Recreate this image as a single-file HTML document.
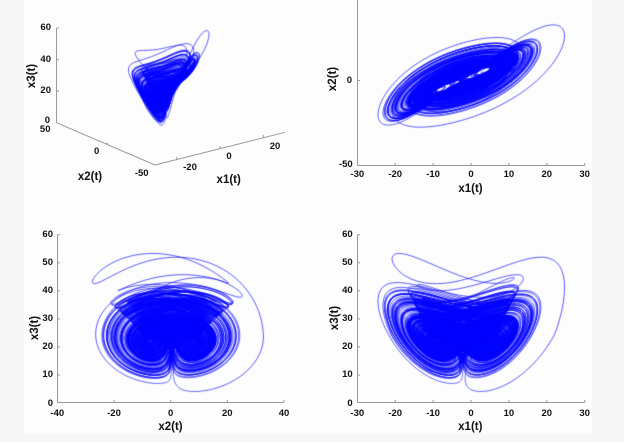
<!DOCTYPE html>
<html>
<head>
<meta charset="utf-8">
<style>
html,body{margin:0;padding:0;}
body{width:624px;height:442px;position:relative;overflow:hidden;background:#f7f7f7;font-family:"Liberation Sans",Arial,sans-serif;font-weight:bold;color:#111;}
#bg{position:absolute;left:24px;top:0;width:568px;height:434px;background:#fdfdfd;}
.t{position:absolute;font-size:9.5px;line-height:10px;white-space:nowrap;}
.r{transform:translate(-100%,-50%);}
.c{transform:translate(-50%,-50%);}
.lb{position:absolute;font-size:11.5px;line-height:12px;white-space:nowrap;transform:translate(-50%,-50%);}
.rot{transform:translate(-50%,-50%) rotate(-90deg);}
svg,canvas{position:absolute;left:0;top:0;}
</style>
</head>
<body>
<div id="bg"></div>
<svg width="624" height="442" viewBox="0 0 624 442">
<g stroke="#9a9a9a" stroke-width="1" fill="none">
<line x1="56.5" y1="28" x2="56.5" y2="122.7"/>
<line x1="56.5" y1="122.7" x2="155" y2="165"/>
<line x1="155" y1="165" x2="285" y2="132.3"/>
<line x1="56.5" y1="28" x2="59" y2="28"/>
<line x1="56.5" y1="59.6" x2="59" y2="59.6"/>
<line x1="56.5" y1="91.1" x2="59" y2="91.1"/>
<line x1="105.5" y1="143.8" x2="108" y2="143.2"/>
<line x1="176.7" y1="159.6" x2="176.7" y2="157"/>
<line x1="220" y1="148.7" x2="220" y2="146"/>
<line x1="263.3" y1="137.8" x2="263.3" y2="135"/>
<line x1="357.5" y1="0" x2="357.5" y2="165.5"/>
<line x1="357.5" y1="165.5" x2="584.7" y2="165.5"/>
<line x1="357.5" y1="80.5" x2="360" y2="80.5"/>
<line x1="395.2" y1="165.5" x2="395.2" y2="163"/>
<line x1="433.1" y1="165.5" x2="433.1" y2="163"/>
<line x1="471" y1="165.5" x2="471" y2="163"/>
<line x1="508.9" y1="165.5" x2="508.9" y2="163"/>
<line x1="546.8" y1="165.5" x2="546.8" y2="163"/>
<line x1="584.7" y1="165.5" x2="584.7" y2="163"/>
<line x1="57.5" y1="234.7" x2="57.5" y2="402.5"/>
<line x1="57.5" y1="402.5" x2="284" y2="402.5"/>
<line x1="57.5" y1="375" x2="60" y2="375"/>
<line x1="57.5" y1="346.9" x2="60" y2="346.9"/>
<line x1="57.5" y1="318.9" x2="60" y2="318.9"/>
<line x1="57.5" y1="290.8" x2="60" y2="290.8"/>
<line x1="57.5" y1="262.8" x2="60" y2="262.8"/>
<line x1="57.5" y1="234.7" x2="60" y2="234.7"/>
<line x1="114" y1="402.5" x2="114" y2="400"/>
<line x1="170.7" y1="402.5" x2="170.7" y2="400"/>
<line x1="227.3" y1="402.5" x2="227.3" y2="400"/>
<line x1="284" y1="402.5" x2="284" y2="400"/>
<line x1="357.5" y1="234.7" x2="357.5" y2="402.5"/>
<line x1="357.5" y1="402.5" x2="584.7" y2="402.5"/>
<line x1="357.5" y1="375" x2="360" y2="375"/>
<line x1="357.5" y1="346.9" x2="360" y2="346.9"/>
<line x1="357.5" y1="318.9" x2="360" y2="318.9"/>
<line x1="357.5" y1="290.8" x2="360" y2="290.8"/>
<line x1="357.5" y1="262.8" x2="360" y2="262.8"/>
<line x1="357.5" y1="234.7" x2="360" y2="234.7"/>
<line x1="395.2" y1="402.5" x2="395.2" y2="400"/>
<line x1="433.1" y1="402.5" x2="433.1" y2="400"/>
<line x1="471" y1="402.5" x2="471" y2="400"/>
<line x1="508.9" y1="402.5" x2="508.9" y2="400"/>
<line x1="546.8" y1="402.5" x2="546.8" y2="400"/>
<line x1="584.7" y1="402.5" x2="584.7" y2="400"/>
</g>
</svg>
<canvas id="cv" width="624" height="442"></canvas>

<div class="t r" style="left:51px;top:28px">60</div>
<div class="t r" style="left:51px;top:60px">40</div>
<div class="t r" style="left:51px;top:90.5px">20</div>
<div class="t r" style="left:50px;top:121px">0</div>
<div class="t r" style="left:50.5px;top:130px">50</div>
<div class="t c" style="left:96.7px;top:152px">0</div>
<div class="t c" style="left:141.7px;top:173.7px">-50</div>
<div class="t c" style="left:190px;top:168.3px">-20</div>
<div class="t c" style="left:229px;top:157px">0</div>
<div class="t c" style="left:275px;top:146.7px">20</div>
<div class="lb" style="left:90px;top:177px">x2(t)</div>
<div class="lb" style="left:228.7px;top:179.7px">x1(t)</div>
<div class="lb rot" style="left:31.7px;top:76px">x3(t)</div>

<div class="t r" style="left:352.5px;top:-4.4px">50</div>
<div class="t r" style="left:352px;top:80.8px">0</div>
<div class="t r" style="left:352.7px;top:165px">-50</div>
<div class="t c" style="left:357.3px;top:174.5px">-30</div>
<div class="t c" style="left:395.2px;top:174.5px">-20</div>
<div class="t c" style="left:433.1px;top:174.5px">-10</div>
<div class="t c" style="left:471px;top:174.5px">0</div>
<div class="t c" style="left:508.9px;top:174.5px">10</div>
<div class="t c" style="left:546.8px;top:174.5px">20</div>
<div class="t c" style="left:584.7px;top:174.5px">30</div>
<div class="lb" style="left:470.5px;top:189.3px">x1(t)</div>
<div class="lb rot" style="left:333px;top:79px">x2(t)</div>

<div class="t r" style="left:53px;top:403.5px">0</div>
<div class="t r" style="left:53px;top:375.3px">10</div>
<div class="t r" style="left:53px;top:347.2px">20</div>
<div class="t r" style="left:53px;top:319.2px">30</div>
<div class="t r" style="left:53px;top:291.1px">40</div>
<div class="t r" style="left:53px;top:263.1px">50</div>
<div class="t r" style="left:53px;top:235px">60</div>
<div class="t c" style="left:57.3px;top:413.5px">-40</div>
<div class="t c" style="left:114px;top:413.5px">-20</div>
<div class="t c" style="left:170.7px;top:413.5px">0</div>
<div class="t c" style="left:227.3px;top:413.5px">20</div>
<div class="t c" style="left:284px;top:413.5px">40</div>
<div class="lb" style="left:170.5px;top:426.7px">x2(t)</div>
<div class="lb rot" style="left:35px;top:328px">x3(t)</div>

<div class="t r" style="left:352.7px;top:403.5px">0</div>
<div class="t r" style="left:352.7px;top:375.3px">10</div>
<div class="t r" style="left:352.7px;top:347.2px">20</div>
<div class="t r" style="left:352.7px;top:319.2px">30</div>
<div class="t r" style="left:352.7px;top:291.1px">40</div>
<div class="t r" style="left:352.7px;top:263.1px">50</div>
<div class="t r" style="left:352.7px;top:235px">60</div>
<div class="t c" style="left:357.3px;top:413.5px">-30</div>
<div class="t c" style="left:395.2px;top:413.5px">-20</div>
<div class="t c" style="left:433.1px;top:413.5px">-10</div>
<div class="t c" style="left:471px;top:413.5px">0</div>
<div class="t c" style="left:508.9px;top:413.5px">10</div>
<div class="t c" style="left:546.8px;top:413.5px">20</div>
<div class="t c" style="left:584.7px;top:413.5px">30</div>
<div class="lb" style="left:470.3px;top:426.7px">x1(t)</div>
<div class="lb rot" style="left:334.5px;top:317.8px">x3(t)</div>

<script>
(function(){
var cv=document.getElementById('cv');var ctx=cv.getContext('2d');
var dt=0.002;
var k1=[0,0,0],k2=[0,0,0],k3=[0,0,0],k4=[0,0,0];
function f(x,y,z,o){o[0]=35*(y-x);o[1]=-7*x-x*z+28*y;o[2]=x*y-3*z;}
var x=-3,y=2,z=20;
function step(){
 f(x,y,z,k1);
 f(x+dt/2*k1[0],y+dt/2*k1[1],z+dt/2*k1[2],k2);
 f(x+dt/2*k2[0],y+dt/2*k2[1],z+dt/2*k2[2],k3);
 f(x+dt*k3[0],y+dt*k3[1],z+dt*k3[2],k4);
 x+=dt/6*(k1[0]+2*k2[0]+2*k3[0]+k4[0]);
 y+=dt/6*(k1[1]+2*k2[1]+2*k3[1]+k4[1]);
 z+=dt/6*(k1[2]+2*k2[2]+2*k3[2]+k4[2]);
}
for(var i=0;i<3000;i++)step();
var N=120000;
var A=new Float32Array(N),B=new Float32Array(N),C=new Float32Array(N);
for(i=0;i<N;i++){step();A[i]=x;B[i]=y+0.55*(y-x);C[i]=z;}
var sm=0;for(i=0;i<400;i++)sm+=A[i];
if(sm<0){for(i=0;i<N;i++){A[i]=-A[i];B[i]=-B[i];}}
function q(arr,p){var s=Array.prototype.slice.call(arr).sort(function(a,b){return a-b;});return [s[Math.floor(p*s.length)],s[Math.floor((1-p)*s.length)-1]];}
var qa=q(A,0.001),qb=q(B,0.001),qc=q(C,0.001);
function mp(v,r,lo,hi){return lo+(v-r[0])/(r[1]-r[0])*(hi-lo);}
var P1=new Float32Array(N),P2=new Float32Array(N),P3=new Float32Array(N);
var c1=-2,c2=0,c3=25;
for(i=0;i<N;i++){
 var a=mp(A[i],qa,-21.5,16.5),b=mp(B[i],qb,-22,22),c=mp(C[i],qc,9,41);
 var t=i*dt,e=Math.exp(-t/2.5);
 a=c1+(a-c1)*(1+0.4*e);
 b=c2+(b-c2)*(1+0.45*e);
 if(c>c3)c=c3+(c-c3)*(1+1.05*e);else c=c3+(c-c3)*(1+0.4*e);
 P1[i]=a;P2[i]=b;P3[i]=c;
}
ctx.strokeStyle='#0000ff';
ctx.lineWidth=0.65;
ctx.lineJoin='round';
function draw(fx,fy){
 ctx.beginPath();
 ctx.moveTo(fx(0),fy(0));
 for(var j=1;j<N;j++)ctx.lineTo(fx(j),fy(j));
 ctx.stroke();
}
draw(function(j){return 357.3+(P1[j]+30)*3.79;},function(j){return 80.3-P2[j]*1.694;});
draw(function(j){return 57.3+(P2[j]+40)*2.834;},function(j){return 403-P3[j]*2.805;});
draw(function(j){return 357.3+(P1[j]+30)*3.79;},function(j){return 403-P3[j]*2.805;});
draw(function(j){return 56.5+(P1[j]+30)*2.1667+(50-P2[j])*0.99;},
     function(j){return 122.7-(P1[j]+30)*0.545+(50-P2[j])*0.423-P3[j]*1.578;});
})();
</script>
</body>
</html>
